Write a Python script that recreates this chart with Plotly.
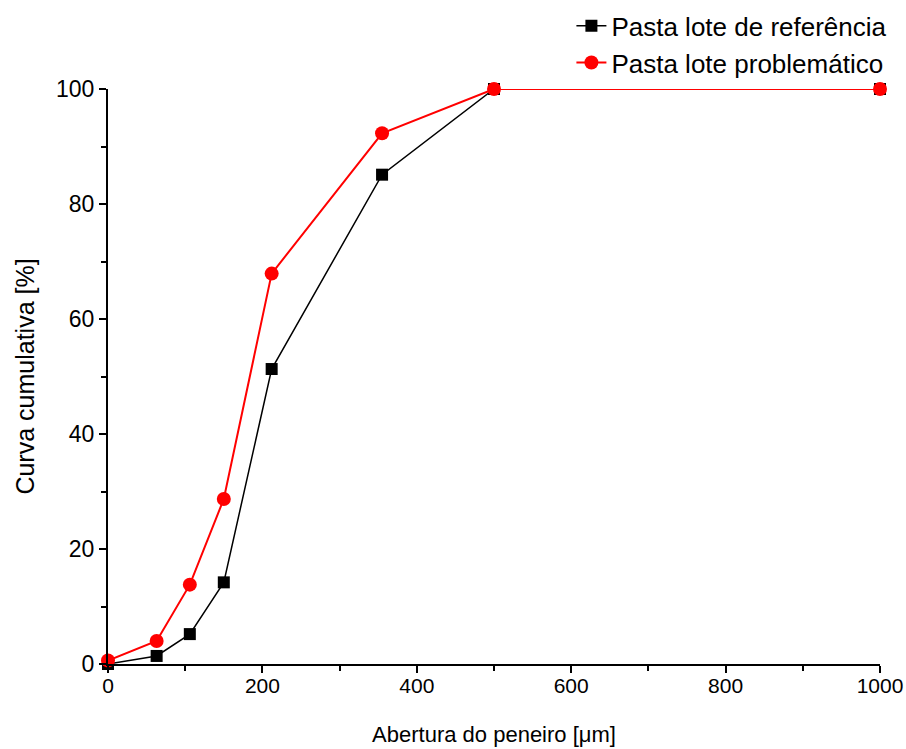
import plotly.graph_objects as go

# Sieve openings (µm) and cumulative passing (%)
abertura = [0, 63, 106, 150, 212, 355, 500, 1000]
ref_lote = [0.0, 1.4, 5.2, 14.2, 51.3, 85.1, 100.0, 100.0]
prob_lote = [0.6, 4.0, 13.8, 28.7, 67.9, 92.3, 100.0, 100.0]

fig = go.Figure()
fig.add_trace(go.Scatter(
    x=abertura, y=ref_lote, mode="lines+markers",
    name="Pasta lote de referência",
    line=dict(color="black", width=1.5),
    marker=dict(symbol="square", size=12, color="black"),
    cliponaxis=False,
))
fig.add_trace(go.Scatter(
    x=abertura, y=prob_lote, mode="lines+markers",
    name="Pasta lote problemático",
    line=dict(color="#ff0000", width=2),
    marker=dict(symbol="circle", size=14, color="#ff0000"),
    cliponaxis=False,
))

axis_common = dict(
    showline=True, linecolor="black", linewidth=2,
    ticks="outside", ticklen=7, tickwidth=1.5, tickcolor="black",
    showgrid=False, zeroline=False, mirror=False,
    minor=dict(ticks="outside", ticklen=5, tickwidth=1.5, tickcolor="black", showgrid=False),
)

fig.update_xaxes(
    range=[0, 1000], tickvals=[0, 200, 400, 600, 800, 1000],
    minor_dtick=100, ticklabelstandoff=-5,
    tickfont=dict(family="Liberation Sans, Arial", size=21, color="black"),
    title=dict(text="Abertura do peneiro [μm]", standoff=30,
               font=dict(family="Liberation Sans, Arial", size=22, color="black")),
    **axis_common,
)
fig.update_yaxes(
    range=[0, 100], tickvals=[0, 20, 40, 60, 80, 100],
    minor_dtick=10,
    tickfont=dict(family="Liberation Sans, Arial", size=23, color="black"),
    title=dict(text="Curva cumulativa [%]", standoff=14,
               font=dict(family="Liberation Sans, Arial", size=25, color="black")),
    **axis_common,
)

fig.update_layout(
    width=906, height=749,
    margin=dict(l=108, r=26, t=89, b=85, autoexpand=False),
    plot_bgcolor="white", paper_bgcolor="white",
    legend=dict(
        xref="container", yref="container",
        x=0.985, xanchor="right", y=0.997, yanchor="top",
        font=dict(family="Liberation Sans, Arial", size=26, color="black"),
        bgcolor="rgba(0,0,0,0)", tracegroupgap=0, itemwidth=30,
    ),
)

fig.write_html("out.html")
